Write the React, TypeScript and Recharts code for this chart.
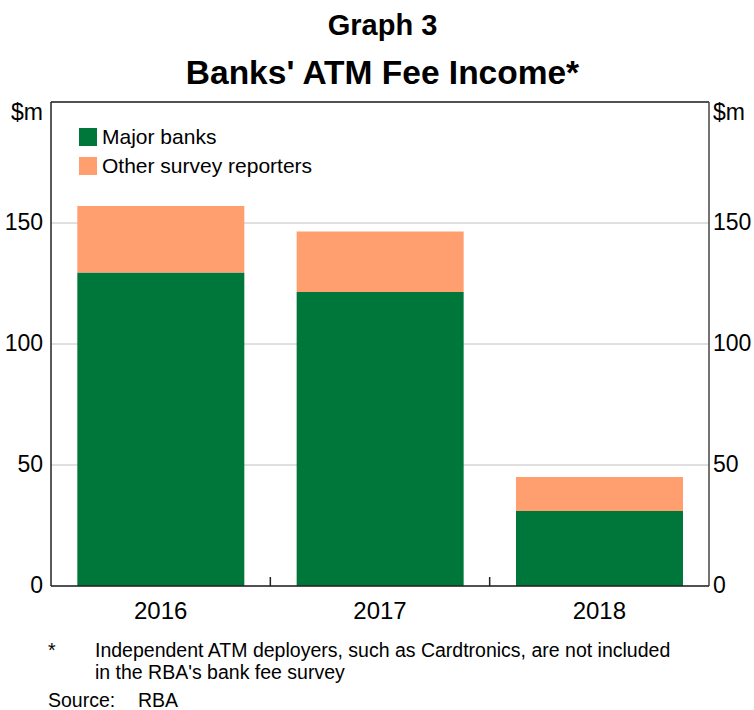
import React from 'react';
import { BarChart, Bar, XAxis, YAxis, CartesianGrid, Legend, ReferenceLine } from 'recharts';

const years = ['2016', '2017', '2018'];
const majorBanks = [129.5, 121.5, 31];
const otherReporters = [27.5, 25, 14];
const yTicks = [0, 50, 100, 150, 200];

const GREEN = '#00773a';
const ORANGE = '#ff9e6e';
const FONT = '"Liberation Sans", Arial, sans-serif';

const CHART_W = 754;
const MARGIN = { top: 102, right: 0, bottom: 14, left: 6 };
const Y_AXIS_W = 45;
const PLOT_W = CHART_W - MARGIN.left - MARGIN.right - 2 * Y_AXIS_W;

const data = years.map((year, i) => ({
  year,
  major: majorBanks[i],
  other: otherReporters[i],
}));

const YTick = ({ x, y, payload, textAnchor }: any) => {
  const isUnit = payload.value === 200;
  return (
    <text
      x={x}
      y={y}
      dy={isUnit ? 18 : 6.5}
      textAnchor={textAnchor}
      fontSize={23}
      fontFamily={FONT}
      fill="#000"
    >
      {isUnit ? '$m' : payload.value}
    </text>
  );
};

// category label plus a short upward tick at the right edge of each band (except the last)
const XTick = (props: any) => {
  const { payload } = props;
  const cx = Number(props.x);
  const axisY = Number(props.y);
  const half = PLOT_W / years.length / 2;
  const i = years.indexOf(String(payload.value));
  const bx = cx + half;
  return (
    <g>
      <text x={cx} y={axisY} dy={33} textAnchor="middle" fontSize={24} fontFamily={FONT} fill="#000">
        {payload.value}
      </text>
      {i >= 0 && i < years.length - 1 && (
        <rect x={bx - 0.75} y={axisY - 9} width={1.5} height={9} fill="#222" />
      )}
    </g>
  );
};

const LegendContent = () => {
  const items = [
    { label: 'Major banks', color: GREEN },
    { label: 'Other survey reporters', color: ORANGE },
  ];
  return (
    <div style={{ fontFamily: FONT, fontSize: 21 }}>
      {items.map((it) => (
        <div key={it.label} style={{ display: 'flex', alignItems: 'center', height: 29 }}>
          <span style={{ width: 18, height: 18, background: it.color, marginRight: 5 }} />
          <span>{it.label}</span>
        </div>
      ))}
    </div>
  );
};

export default function App() {
  return (
    <div style={{ position: 'absolute', left: 0, top: 0, width: 754, height: 710, background: '#fff', fontFamily: FONT }}>
      <div style={{ position: 'absolute', top: 9, left: 0, width: 765, textAlign: 'center', fontWeight: 'bold', fontSize: 29 }}>
        Graph 3
      </div>
      <div style={{ position: 'absolute', top: 54, left: 0, width: 765, textAlign: 'center', fontWeight: 'bold', fontSize: 33.5 }}>
        Banks' ATM Fee Income*
      </div>
      <div style={{ position: 'absolute', top: 0, left: 0 }}>
        <BarChart width={CHART_W} height={640} data={data} margin={MARGIN} barCategoryGap="12%">
          <CartesianGrid yAxisId="left" vertical={false} stroke="#c0c0c0" />
          <YAxis
            yAxisId="left"
            width={Y_AXIS_W}
            domain={[0, 200]}
            ticks={yTicks}
            tickLine={false}
            axisLine={{ stroke: '#222', strokeWidth: 1.5 }}
            tick={<YTick />}
          />
          <YAxis
            yAxisId="right"
            orientation="right"
            width={Y_AXIS_W}
            domain={[0, 200]}
            allowDataOverflow
            ticks={yTicks}
            tickLine={false}
            tickSize={2}
            axisLine={{ stroke: '#444', strokeWidth: 1.5 }}
            tick={<YTick />}
          />
          <ReferenceLine yAxisId="left" y={200} stroke="#222" strokeWidth={1.5} />
          <Legend
            layout="vertical"
            align="center"
            verticalAlign="middle"
            wrapperStyle={{ top: 122, left: 79 }}
            content={<LegendContent />}
          />
          <Bar yAxisId="left" dataKey="major" stackId="a" fill={GREEN} isAnimationActive={false} />
          <Bar yAxisId="left" dataKey="other" stackId="a" fill={ORANGE} isAnimationActive={false} />
          <XAxis
            dataKey="year"
            height={40}
            tickLine={false}
            tickSize={0}
            tickMargin={0}
            axisLine={{ stroke: '#222', strokeWidth: 1.5 }}
            tick={<XTick />}
          />
        </BarChart>
      </div>
      <div style={{ position: 'absolute', top: 639, left: 48, fontSize: 19.5, lineHeight: '22px' }}>
        <span style={{ position: 'absolute', left: 0 }}>*</span>
        <div style={{ marginLeft: 47, whiteSpace: 'nowrap' }}>
          Independent ATM deployers, such as Cardtronics, are not included
          <br />
          in the RBA's bank fee survey
        </div>
      </div>
      <div style={{ position: 'absolute', top: 689, left: 48, fontSize: 19.5, lineHeight: '22px' }}>
        Source:<span style={{ position: 'absolute', left: 90 }}>RBA</span>
      </div>
    </div>
  );
}
